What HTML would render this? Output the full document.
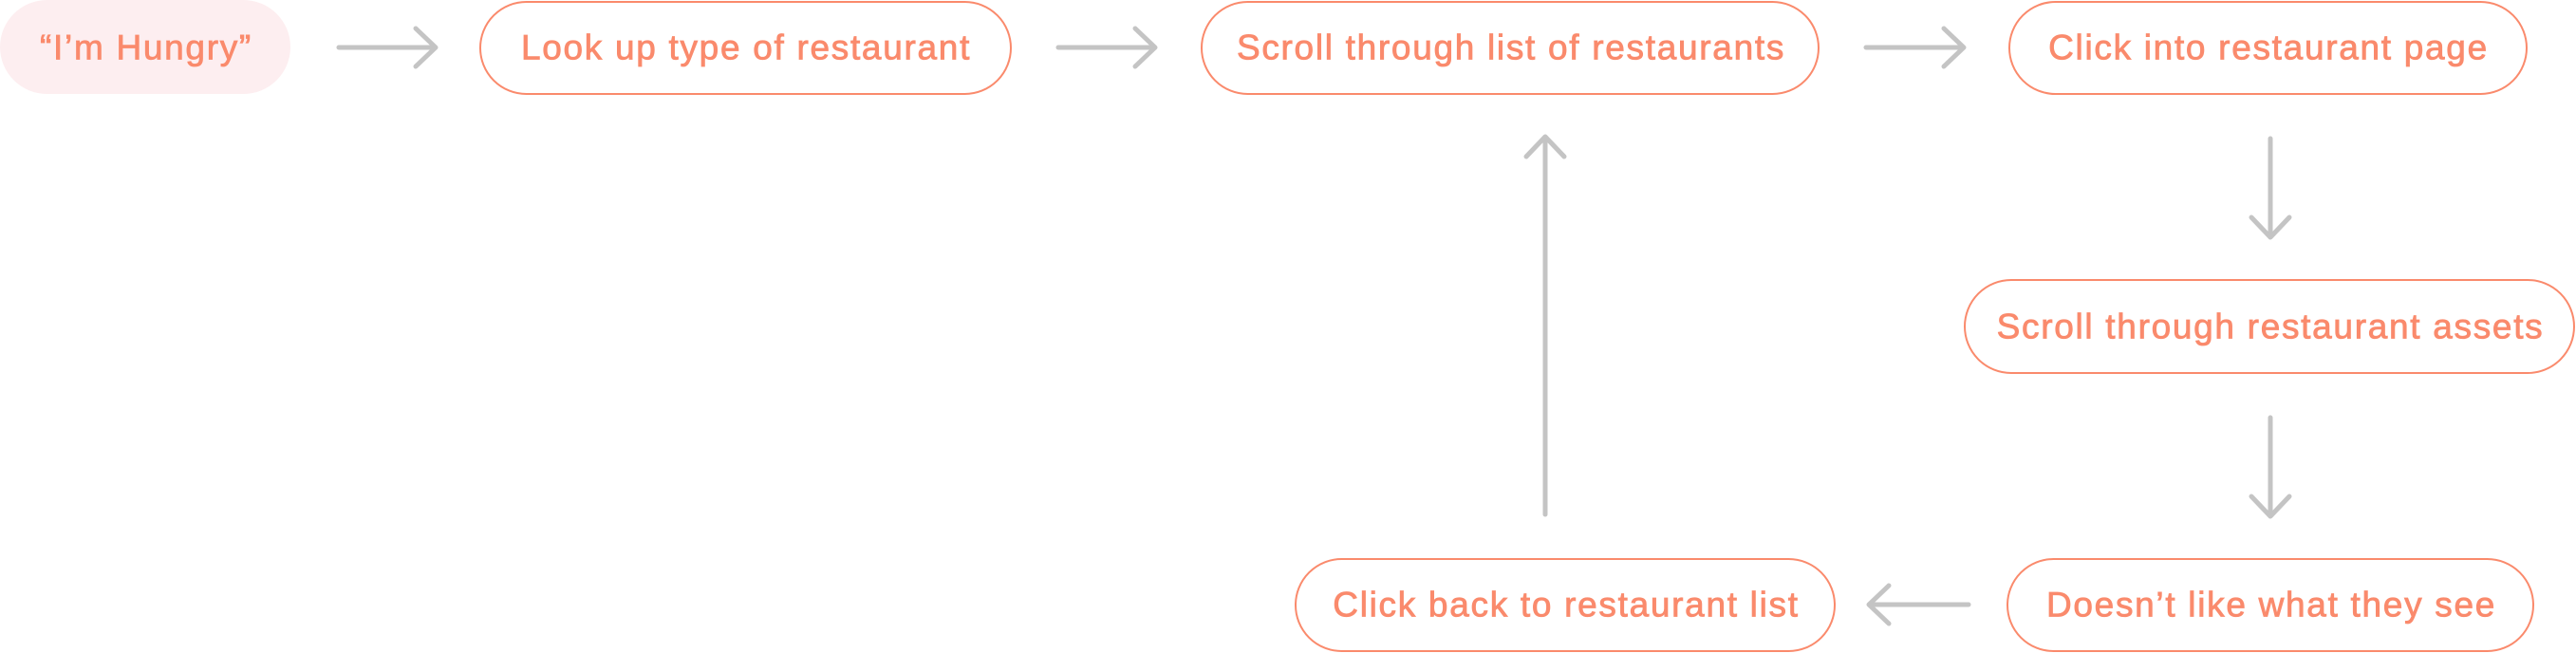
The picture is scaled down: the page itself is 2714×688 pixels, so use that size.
<!DOCTYPE html>
<html><head><meta charset="utf-8"><style>
html,body{margin:0;padding:0;background:#fff;width:2714px;height:688px;overflow:hidden}
svg text{font-family:"Liberation Sans",sans-serif;font-size:37px;letter-spacing:1.7px;fill:#fa8a6c;stroke:#fa8a6c;stroke-width:0.8;text-anchor:middle;dominant-baseline:central}
</style></head><body>
<svg width="2714" height="688" viewBox="0 0 2714 688" xmlns="http://www.w3.org/2000/svg">
<g fill="none" stroke="#fa8a6c" stroke-width="2">
<rect x="0" y="0" width="306" height="99" rx="49.5" fill="#fdeef0" stroke="none"/>
<rect x="506" y="2" width="559" height="97" rx="48.5"/>
<rect x="1266" y="2" width="650" height="97" rx="48.5"/>
<rect x="2117" y="2" width="545" height="97" rx="48.5"/>
<rect x="2070" y="295" width="642" height="98" rx="49"/>
<rect x="2115" y="589" width="554" height="97" rx="48.5"/>
<rect x="1365" y="589" width="568" height="97" rx="48.5"/>
</g>
<g fill="none" stroke="#c4c4c4" stroke-width="5" stroke-linecap="round" stroke-linejoin="round">
<path d="M357 50H458 M438 30L459 50L438 70"/>
<path d="M1115 50H1216 M1196 30L1217 50L1196 70"/>
<path d="M1966 50H2068 M2048 30L2069 50L2048 70"/>
<path d="M2392 146V249 M2372 229L2392 250L2412 229"/>
<path d="M2392 440V543 M2372 523L2392 544L2412 523"/>
<path d="M2074 637H1970 M1990 617L1969 637L1990 657"/>
<path d="M1628 542V145 M1608 165L1628 144L1648 165"/>
</g>
<text x="154" y="50">“I’m Hungry”</text>
<text x="786" y="50">Look up type of restaurant</text>
<text x="1592" y="50">Scroll through list of restaurants</text>
<text x="2390" y="50">Click into restaurant page</text>
<text x="2392" y="344">Scroll through restaurant assets</text>
<text x="2393" y="637">Doesn’t like what they see</text>
<text x="1650" y="637">Click back to restaurant list</text>
</svg>
</body></html>
